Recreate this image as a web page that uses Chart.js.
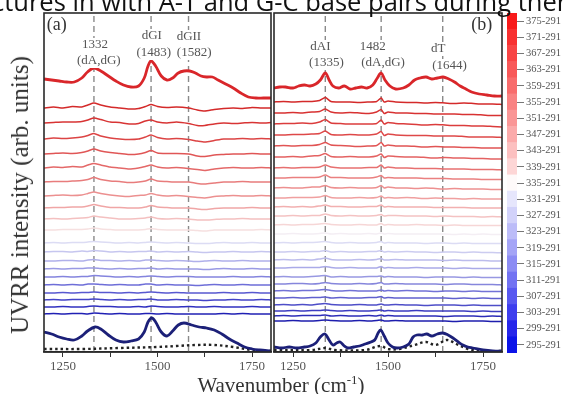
<!DOCTYPE html>
<html>
<head>
<meta charset="utf-8">
<script src="https://cdn.jsdelivr.net/npm/chart.js@4"></script>
<style>
  html, body { margin: 0; padding: 0; background: #fff; }
  #page { position: relative; width: 563px; height: 394px; overflow: hidden; background: #fff; }
  #page canvas { position: absolute; left: 0; top: 0; }
  .caption { position: absolute; left: -8px; top: -12px; line-height: 26px; white-space: nowrap;
             font-family: 'Open Sans', sans-serif; font-size: 25.5px; color: #111; }
  .ytitle { position: absolute; left: 20px; top: 195px; white-space: nowrap; color: #333;
            font-family: 'Liberation Serif', serif; font-size: 25px;
            transform: translate(-50%, -50%) rotate(-90deg); }
  .xtitle { position: absolute; left: 281px; top: 385px; white-space: nowrap; color: #333;
            font-family: 'Liberation Serif', serif; font-size: 21px;
            transform: translate(-50%, -50%); }
  .xtitle sup { font-size: 13px; }
</style>
</head>
<body>
<div id="page">
  <canvas id="panelA" width="563" height="394"></canvas>
  <canvas id="panelB" width="563" height="394"></canvas>
  <canvas id="colorbar" width="563" height="394"></canvas>
  <div class="caption">ctures in with A-T and G-C base pairs during therm</div>
  <div class="ytitle">UVRR intensity (arb. units)</div>
  <div class="xtitle">Wavenumber (cm<sup>-1</sup>)</div>
</div>
<script>
// ---- axis ticks ----
let majorTicks = [1250, 1500, 1750];
let minorTicks = [1375, 1625];

// ---- panel (a) ----
let peaksA = [1332, 1483, 1582];

let wnTopA = [1200, 1220, 1240, 1260, 1280, 1300, 1315, 1332, 1350, 1370, 1390, 1410, 1430, 1450, 1465, 1475, 1483, 1495, 1510, 1525, 1540, 1555, 1570, 1585, 1600, 1615, 1630, 1645, 1660, 1680, 1700, 1720, 1740, 1760, 1780, 1800];
let topA = [281, 280, 279, 278, 278, 282, 288, 292, 289, 284, 279, 275, 273, 274, 282, 294, 299, 294, 284, 280, 282, 287, 289, 289, 287, 284, 283, 283, 280, 276, 272, 267, 263, 262, 262, 262];

let wnLowA = [1200, 1220, 1240, 1260, 1280, 1300, 1315, 1335, 1350, 1370, 1390, 1410, 1430, 1450, 1465, 1475, 1485, 1495, 1510, 1525, 1540, 1555, 1570, 1590, 1610, 1630, 1650, 1670, 1690, 1710, 1730, 1750, 1770, 1800];
let lowA = [28, 26, 23, 21, 20, 24, 29, 33, 31, 25, 20, 18, 19, 21, 28, 38, 42, 38, 28, 24, 29, 35, 37, 35, 33, 32, 30, 26, 21, 17, 13, 11, 10, 9];

let wnBufA = [1200, 1300, 1400, 1500, 1550, 1600, 1650, 1700, 1750, 1800];
let bufA = [11, 11, 12, 13, 14, 15, 15, 13, 10, 9];

let wnDiffA = [1200, 1225, 1250, 1275, 1300, 1316, 1332, 1350, 1375, 1400, 1425, 1450, 1468, 1483, 1500, 1525, 1550, 1582, 1605, 1625, 1650, 1675, 1700, 1725, 1750, 1775, 1800];
let diffA = [
  [0, 1, 0, 1.5, 1, 3, 5, 3, 1, 0, -1, -0.5, 1.5, 3.5, 1.5, 0.5, 1, 0, -2, -3, -1.5, -0.5, 0, -0.5, 0.5, 0, 0],
  [0, 0.5, 1, 1, 1.5, 3, 5, 3.5, 1, 0.5, -1, -0.5, 2, 3, 1, 0, 1, -0.5, -2.5, -2.5, -1, 0, -0.5, 0, 0.5, 0, 0.5],
  [0, 1, 0.5, 1, 2, 3.5, 5.5, 3, 1, 0, -0.5, 0, 2, 4, 1.5, 0, 0.5, -0.5, -2, -3, -1.5, 0, 0, 0.5, 0, 0.5, 0],
  [0, 0.5, 1, 0.5, 1.5, 3, 5, 3, 1.5, 0.5, -0.5, 0, 1.5, 3.5, 1, 0.5, 0.5, 0, -2, -2.5, -1, -0.5, 0, 0, 0.5, 0, 0],
  [0, 1, 0.5, 1.5, 1, 3, 4.5, 3, 1, 0, -1, 0, 1.5, 3, 1, 0, 0.5, -0.5, -1.5, -2.5, -1, 0, 0.5, 0, 0, 0.5, 0],
  [0, 0.5, 0.5, 1, 1.5, 2.5, 4.5, 2.5, 1, 0.5, -0.5, 0, 1, 3, 1, 0.5, 0, 0, -1.5, -2, -1, 0, 0, 0.5, 0, 0, 0],
  [0, 0.5, 1, 0.5, 1, 2.5, 4, 2.5, 1, 0, -0.5, 0.5, 1, 2.5, 1, 0, 0.5, -0.5, -1.5, -2, -0.5, 0, 0.5, 0, 0, 0.5, 0],
  [0, 0.5, 0.5, 1, 1, 2, 3.5, 2, 0.5, 0.5, 0, 0, 1, 2.5, 1, 0.5, 0, 0, -1, -1.5, -0.5, 0, 0, 0, 0.5, 0, 0],
  [0, 0.5, 0, 0.5, 1, 1.5, 3, 2, 1, 0, 0, 0.5, 1, 2, 0.5, 0, 0.5, 0, -1, -1, -0.5, 0, 0, 0.5, 0, 0, 0],
  [0, 0, 0.5, 0.5, 0.5, 1, 2, 1, 0.5, 0, 0, 0, 0.5, 1.5, 0.5, 0, 0, 0, -0.5, -1, 0, 0, 0, 0, 0, 0.5, 0],
  [0, 0.5, 0, 0.5, 0.5, 1, 1.5, 1, 0.5, 0, 0.5, 0, 0.5, 1, 0.5, 0, 0.5, 0, -0.5, -0.5, 0, 0.5, 0, 0, 0.5, 0, 0],
  [0, 0.5, 0.5, 0, 1, 0.5, 1.5, 1, 0, 0.5, 0, 0.5, 0.5, 1, 0, 0.5, 0, 0.5, 0, -0.5, 0, 0, 0.5, 0, 0, 0.5, 0],
  [0, 0, 0.5, 0.5, 0, 1, 1.5, 0.5, 0.5, 0, 0.5, 0, 1, 1, 0.5, 0, 0.5, 0, -0.5, 0, 0.5, 0, 0, 0.5, 0, 0, 0],
  [0, 0.5, 0, 0.5, 0.5, 1, 1, 0.5, 0, 0.5, 0, 0.5, 0.5, 1, 0, 0.5, 0, 0, 0, -0.5, 0, 0.5, 0, 0, 0.5, 0, 0],
  [0, 0, 0.5, 0, 0.5, 0.5, 1.5, 1, 0.5, 0, 0.5, 0, 0.5, 1, 0.5, 0, 0.5, 0.5, 0, 0, 0, 0, 0.5, 0, 0, 0.5, 0],
  [0, 0.5, 0, 0.5, 0, 1, 1, 0.5, 0, 0.5, 0, 0, 1, 1, 0, 0.5, 0, 0, -0.5, 0, 0.5, 0, 0, 0.5, 0, 0, 0],
  [0, 0, 0.5, 0, 0.5, 0.5, 1, 0.5, 0.5, 0, 0.5, 0, 0.5, 1, 0.5, 0, 0.5, 0, 0, 0, 0, 0.5, 0, 0, 0.5, 0, 0],
  [0, 0.5, 0, 0.5, 0.5, 0.5, 1, 0.5, 0, 0.5, 0, 0.5, 0.5, 1, 0, 0, 0.5, 0, 0, -0.5, 0, 0, 0.5, 0, 0, 0.5, 0],
  [0, 0, 0.5, 0, 0, 0.5, 1, 0.5, 0.5, 0, 0, 0.5, 0, 1, 0.5, 0, 0, 0.5, 0, 0, 0.5, 0, 0, 0, 0.5, 0, 0],
  [0, 0.5, 0, 0.5, 0.5, 0, 1, 0.5, 0, 0.5, 0, 0, 0.5, 0.5, 0, 0.5, 0, 0, 0, 0, 0, 0.5, 0, 0.5, 0, 0, 0]
];
let offsetsA = [252, 237, 221, 206, 192, 178, 164, 152, 141, 130, 117, 108, 99, 91, 83, 75, 67, 60, 53, 46];
let colorsA = ['#d42a2a', '#d83434', '#dc4444', '#e05656', '#e46868', '#e87c7c', '#ec9090', '#f0a6a6', '#f4c0c0', '#f6e0e0',
               '#dcdcf4', '#c6c6ef', '#b0b0ea', '#9a9ae4', '#8484de', '#6e6ed8', '#5858d0', '#4444c8', '#3030c0', '#2020b4'];

// ---- panel (b) ----
let peaksB = [1335, 1482, 1644];

let wnTopB = [1200, 1215, 1230, 1250, 1265, 1280, 1295, 1310, 1322, 1335, 1345, 1355, 1370, 1385, 1400, 1415, 1430, 1445, 1460, 1472, 1482, 1492, 1505, 1520, 1540, 1555, 1570, 1585, 1600, 1615, 1630, 1645, 1660, 1675, 1690, 1705, 1720, 1740, 1760, 1780, 1800];
let topB = [272, 273, 273, 272, 274, 275, 274, 276, 280, 287, 280, 274, 272, 274, 271, 272, 273, 272, 275, 282, 287, 280, 274, 271, 272, 275, 280, 282, 283, 281, 282, 283, 281, 278, 274, 271, 268, 266, 265, 264, 264];

let wnLowB = [1200, 1220, 1240, 1260, 1280, 1295, 1310, 1322, 1334, 1345, 1355, 1365, 1374, 1385, 1395, 1410, 1425, 1440, 1455, 1465, 1474, 1481, 1490, 1500, 1512, 1524, 1540, 1555, 1566, 1576, 1590, 1602, 1615, 1630, 1644, 1658, 1671, 1685, 1697, 1710, 1723, 1750, 1775, 1800];
let lowB = [13, 12, 13, 12, 13, 14, 17, 23, 26, 20, 15, 17, 18, 14, 12, 13, 14, 16, 18, 20, 27, 30, 24, 17, 13, 12, 13, 16, 23, 25, 25, 26, 24, 26, 27, 25, 22, 18, 15, 13, 12, 10, 9, 9];

let wnBufB = [1200, 1300, 1335, 1360, 1440, 1480, 1500, 1530, 1570, 1600, 1625, 1655, 1680, 1710, 1750, 1800];
let bufB = [10, 10, 12, 10, 10, 14, 11, 11, 15, 18, 15, 20, 16, 11, 9, 9];

let wnDiffB = [1200, 1225, 1250, 1275, 1300, 1320, 1335, 1350, 1375, 1400, 1425, 1450, 1470, 1482, 1490, 1500, 1520, 1550, 1575, 1600, 1625, 1650, 1675, 1700, 1725, 1750, 1775, 1800];
let diffB = [
  [0, 0.5, 0, 0.5, 0.5, 1.5, 4.5, 0.5, 0, 0, -0.5, 0, 0.5, 4, 0, 1, 0, -0.5, -0.5, -1, -0.5, -1, -1.5, -1, -1.5, -2, -2, -2.5],
  [0, 0, 0.5, 0, 1, 1.5, 4, 1, 0, 0.5, 0, -0.5, 1, 3.5, -0.5, 1, 0, 0, -0.5, -0.5, -1, -1, -1, -1.5, -1.5, -2, -2.5, -2.5],
  [0, 0.5, 0.5, 1, 0.5, 2, 4.5, 1, 0.5, 0, 0, 0, 0.5, 4, 0, 1.5, 0.5, 0, -0.5, -1, -0.5, -1, -1.5, -1.5, -2, -2, -2.5, -3],
  [0, 0, 0.5, 0.5, 1, 1.5, 4, 0.5, 0, 0.5, 0, 0, 1, 3.5, -0.5, 1, 0, -0.5, -0.5, -0.5, -1, -1, -1, -1.5, -2, -2, -2, -2.5],
  [0, 0.5, 0, 0.5, 0.5, 1.5, 3.5, 1, 0.5, 0, -0.5, 0, 0.5, 3.5, 0, 1, 0, 0, -0.5, -1, -0.5, -1, -1, -1.5, -1.5, -2, -2, -2],
  [0, 0, 0.5, 0, 1, 1.5, 3.5, 0.5, 0, 0.5, 0, 0, 1, 3, -0.5, 1, 0.5, 0, 0, -0.5, -1, -0.5, -1, -1, -1.5, -1.5, -2, -2],
  [0, 0.5, 0, 0.5, 0.5, 1, 3, 1, 0, 0, 0, 0.5, 0.5, 3, 0, 1, 0, 0, -0.5, -0.5, -0.5, -1, -1, -1, -1.5, -1.5, -1.5, -2],
  [0, 0, 0.5, 0.5, 0.5, 1, 3, 0.5, 0.5, 0, 0, 0, 1, 2.5, 0, 0.5, 0, 0, 0, -0.5, -0.5, -0.5, -1, -1, -1, -1.5, -1.5, -1.5],
  [0, 0.5, 0, 0, 1, 1, 2.5, 0.5, 0, 0.5, 0, 0, 0.5, 2.5, 0, 1, 0, 0, -0.5, 0, -0.5, -1, -0.5, -1, -1, -1, -1.5, -1.5],
  [0, 0, 0.5, 0.5, 0.5, 1, 2.5, 0.5, 0, 0, 0.5, 0, 0.5, 2, 0, 0.5, 0, 0.5, 0, -0.5, 0, -0.5, -0.5, -1, -0.5, -1, -1, -1],
  [0, 0.5, 0, 0.5, 0, 1, 2, 0.5, 0.5, 0, 0, 0.5, 0.5, 2, 0, 0.5, 0, 0, 0, 0, -0.5, -0.5, -0.5, -0.5, -1, -1, -1, -1],
  [0, 0, 0.5, 0, 0.5, 0.5, 2, 0.5, 0, 0.5, 0, 0, 0.5, 1.5, 0, 0.5, 0.5, 0, 0, 0, -0.5, 0, -0.5, -0.5, -0.5, -1, -0.5, -1],
  [0, 0.5, 0, 0.5, 0.5, 1, 1.5, 0.5, 0, 0, 0.5, 0, 0, 1.5, 0, 0.5, 0, 0, 0.5, 0, 0, -0.5, 0, -0.5, -0.5, -0.5, -0.5, -0.5],
  [0, 0, 0.5, 0, 0, 0.5, 1, 0, 0.5, 0, 0, 0.5, 0, 1, 0, 0.5, 0, 0, 0, 0, 0, 0, -0.5, 0, -0.5, 0, -0.5, -0.5],
  [0, 0.5, 0, 0.5, 0.5, 1, 1.5, 0.5, 0, 0.5, 0, 0, 0.5, 1.5, 0, 0.5, 0, 0, 0, -0.5, 0, 0, -0.5, 0, -0.5, -0.5, -0.5, -0.5],
  [0, 0, 0.5, 0, 0.5, 0.5, 1.5, 0, 0.5, 0, 0, 0.5, 0.5, 1.5, 0, 0.5, 0, 0.5, 0, 0, -0.5, 0, 0, -0.5, 0, -0.5, -0.5, -1],
  [0, 0.5, 0, 0.5, 0, 1, 2, 0.5, 0, 0, 0.5, 0, 0.5, 1.5, 0, 0, 0.5, 0, 0, 0, 0, -0.5, 0, -0.5, -0.5, -0.5, -1, -1],
  [0, 0, 0.5, 0.5, 0.5, 0.5, 1.5, 0.5, 0, 0.5, 0, 0, 0, 1.5, 0, 0.5, 0, 0, 0.5, 0, 0, 0, -0.5, 0, -0.5, -0.5, -0.5, -0.5],
  [0, 0.5, 0, 0, 0.5, 1, 1.5, 0, 0.5, 0, 0, 0.5, 0.5, 1, 0, 0.5, 0, 0, 0, -0.5, 0, 0, 0, -0.5, 0, -0.5, -0.5, -0.5],
  [0, 0, 0.5, 0.5, 0, 0.5, 1.5, 0.5, 0, 0, 0.5, 0, 0.5, 1.5, 0, 0, 0.5, 0, 0, 0, 0, -0.5, 0, 0, -0.5, -0.5, -0.5, -1],
  [0, 0.5, 0, 0.5, 0.5, 1, 1.5, 0.5, 0, 0.5, 0, 0, 0, 1, 0, 0.5, 0, 0.5, 0, 0, -0.5, 0, 0, -0.5, 0, -0.5, -0.5, -0.5],
  [0, 0, 0.5, 0, 0.5, 0.5, 1, 0, 0.5, 0, 0, 0.5, 0.5, 1.5, 0, 0.5, 0, 0, 0, 0, 0, 0, -0.5, 0, -0.5, 0, -0.5, -0.5],
  [0, 0.5, 0, 0.5, 0, 1, 1.5, 0.5, 0, 0, 0.5, 0, 0, 1, 0, 0, 0.5, 0, 0, -0.5, 0, 0, 0, -0.5, 0, -0.5, -0.5, -0.5],
  [0, 0, 0.5, 0, 0.5, 0.5, 1, 0.5, 0, 0.5, 0, 0, 0.5, 1, 0, 0.5, 0, 0, 0.5, 0, 0, 0, 0, 0, -0.5, 0, -0.5, -0.5],
  [0, 0.5, 0, 0.5, 0.5, 0.5, 1, 0, 0.5, 0, 0, 0.5, 0, 1, 0, 0.5, 0, 0, 0, 0, 0, -0.5, 0, 0, 0, -0.5, 0, -0.5],
  [0, 0, 0.5, 0, 0, 0.5, 1, 0.5, 0, 0, 0.5, 0, 0.5, 1, 0, 0, 0.5, 0, 0, 0, 0, 0, -0.5, 0, 0, 0, -0.5, -0.5]
];
let offsetsB = [258, 247, 236, 225, 214, 203, 192, 182, 172, 162, 153, 144, 135, 126, 117, 108, 100, 92, 83, 76, 69, 62, 55, 49, 44, 39];
let colorsB = ['#d42a2a', '#d83232', '#db3c3c', '#de4848', '#e15454', '#e46262', '#e77070', '#ea8080', '#ed9090', '#f0a0a0', '#f2b0b0',
               '#f4c2c2', '#f6d6d6', '#f4eef4',
               '#dcdcf4', '#ccccf0', '#bcbcec', '#aaaae8', '#9898e2', '#8686dc', '#7272d6', '#6060ce', '#4e4ec8', '#3c3cc0', '#2c2cb8', '#1e1eae'];

// ---- colour bar ----
let barLevels = ['375-291', '371-291', '367-291', '363-291', '359-291', '355-291', '351-291', '347-291', '343-291', '339-291', '335-291',
                 '331-291', '327-291', '323-291', '319-291', '315-291', '311-291', '307-291', '303-291', '299-291', '295-291'];
let barColors = ['#f81a1a', '#f83030', '#f84444', '#f85858', '#f86c6c', '#f98282', '#fa9696', '#fbaaaa', '#fcc0c0', '#fdd6d6', '#fefafa',
                 '#e6e6fc', '#d2d2fa', '#bcbcf8', '#a4a4f6', '#8c8cf4', '#7272f2', '#5858f0', '#3e3eee', '#2626ea', '#0c14e8'];

let yMin = 8, yMax = 347;
let serif = "'Liberation Serif', 'Times New Roman', serif";

let framePlugin = {
    id: 'frame',
    afterDraw(chart) {
        let a = chart.chartArea, ctx = chart.ctx;
        ctx.save();
        ctx.strokeStyle = '#2a2a2a';
        ctx.lineWidth = 1.6;
        ctx.strokeRect(a.left, a.top, a.right - a.left, a.bottom - a.top);
        ctx.restore();
    }
};

// peak annotations, drawn on a white patch so the dashed guide is broken behind them
function labelPlugin(items) {
    return {
        id: 'peakLabels',
        afterDatasetsDraw(chart) {
            let ctx = chart.ctx, xs = chart.scales.x, ys = chart.scales.y;
            ctx.save();
            ctx.textAlign = 'center';
            ctx.textBaseline = 'middle';
            for (let it of items) {
                ctx.font = (it.size || 13) + 'px ' + serif;
                let px = xs.getPixelForValue(it.x), py = ys.getPixelForValue(it.y);
                let w = ctx.measureText(it.text).width;
                if (!it.bare) {
                    ctx.fillStyle = '#fff';
                    ctx.fillRect(px - w / 2 - 1, py - 7, w + 2, 14);
                }
                ctx.fillStyle = it.color || '#555';
                ctx.fillText(it.text, px, py);
            }
            ctx.restore();
        }
    };
}

function points(xs, ys, offset) {
    return xs.map((x, i) => ({x: x, y: ys[i] + (offset || 0)}));
}

function buildDatasets(top, low, buf, wnDiff, diffs, offsets, colors, peaks) {
    let sets = [
        {data: points(top[0], top[1]), borderColor: '#d9262a', borderWidth: 2.8, tension: 0.35},
        {data: points(low[0], low[1]), borderColor: '#1c2078', borderWidth: 2.8, tension: 0.35},
        {data: points(buf[0], buf[1]), borderColor: '#222', borderWidth: 2.4, borderDash: [2.5, 3], tension: 0.35}
    ];
    diffs.forEach((d, i) => {
        sets.push({data: points(wnDiff, d, offsets[i]), borderColor: colors[i], borderWidth: 1.5, tension: 0.2});
    });
    for (let p of peaks) {
        sets.push({data: [{x: p, y: yMin}, {x: p, y: yMax}], borderColor: '#8a8a8a', borderWidth: 1.4, borderDash: [6, 4]});
    }
    return sets;
}

function panelOptions(padLeft, padRight) {
    return {
        responsive: false,
        animation: false,
        events: [],
        layout: {padding: {left: padLeft, right: padRight, top: 13, bottom: 18}},
        elements: {point: {radius: 0}},
        plugins: {legend: {display: false}, tooltip: {enabled: false}},
        scales: {
            x: {
                type: 'linear', min: 1200, max: 1800,
                afterBuildTicks: s => { s.ticks = majorTicks.concat(minorTicks).sort().map(v => ({value: v})); },
                afterFit: s => { s.height = 24; },
                ticks: {
                    autoSkip: false, maxRotation: 0, padding: 2, color: '#555',
                    font: {family: serif, size: 13},
                    callback: v => majorTicks.includes(v) ? String(v) : ''
                },
                grid: {drawOnChartArea: false, drawTicks: true, tickLength: 5, color: '#333'},
                border: {display: true, color: '#2a2a2a', width: 1.6}
            },
            y: {type: 'linear', min: yMin, max: yMax, display: false}
        }
    };
}

function initCharts() {
    new Chart(document.getElementById('panelA'), {
        type: 'line',
        data: {datasets: buildDatasets([wnTopA, topA], [wnLowA, lowA], [wnBufA, bufA], wnDiffA, diffA, offsetsA, colorsA, peaksA)},
        options: panelOptions(44, 292),
        plugins: [framePlugin, labelPlugin([
            {x: 1234, y: 335, text: '(a)', size: 18, color: '#333', bare: true},
            {x: 1335, y: 315, text: '1332'},
            {x: 1345, y: 299, text: '(dA,dG)'},
            {x: 1485, y: 324, text: 'dGI'},
            {x: 1490, y: 307, text: '(1483)'},
            {x: 1583, y: 323, text: 'dGII'},
            {x: 1597, y: 307, text: '(1582)'}
        ])]
    });

    new Chart(document.getElementById('panelB'), {
        type: 'line',
        data: {datasets: buildDatasets([wnTopB, topB], [wnLowB, lowB], [wnBufB, bufB], wnDiffB, diffB, offsetsB, colorsB, peaksB)},
        options: panelOptions(274, 61),
        plugins: [framePlugin, labelPlugin([
            {x: 1747, y: 335, text: '(b)', size: 18, color: '#333', bare: true},
            {x: 1322, y: 313, text: 'dAI'},
            {x: 1338, y: 297, text: '(1335)'},
            {x: 1460, y: 313, text: '1482'},
            {x: 1487, y: 297, text: '(dA,dG)'},
            {x: 1632, y: 311, text: 'dT'},
            {x: 1662, y: 294, text: '(1644)'}
        ])]
    });

    // colour bar: one stacked block per temperature level, top level drawn last
    let barSets = [];
    for (let i = barLevels.length - 1; i >= 0; i--) {
        barSets.push({data: [1], backgroundColor: barColors[i], borderWidth: 0, barPercentage: 1, categoryPercentage: 1});
    }
    new Chart(document.getElementById('colorbar'), {
        type: 'bar',
        data: {labels: [''], datasets: barSets},
        options: {
            responsive: false,
            animation: false,
            events: [],
            layout: {padding: {left: 507, right: 0, top: 13, bottom: 41}},
            plugins: {legend: {display: false}, tooltip: {enabled: false}},
            scales: {
                x: {stacked: true, display: false},
                y: {
                    stacked: true, position: 'right', min: 0, max: barLevels.length,
                    afterBuildTicks: s => { s.ticks = barLevels.map((l, i) => ({value: i + 0.5})); },
                    afterFit: s => { s.width = 46; },
                    ticks: {
                        autoSkip: false, padding: 2, color: '#555',
                        font: {family: serif, size: 10.5},
                        callback: v => barLevels[barLevels.length - 1 - Math.floor(v)]
                    },
                    grid: {drawOnChartArea: false, drawTicks: true, tickLength: 7, color: '#777'},
                    border: {display: false}
                }
            }
        }
    });
}

window.onload = initCharts;
</script>
</body>
</html>
